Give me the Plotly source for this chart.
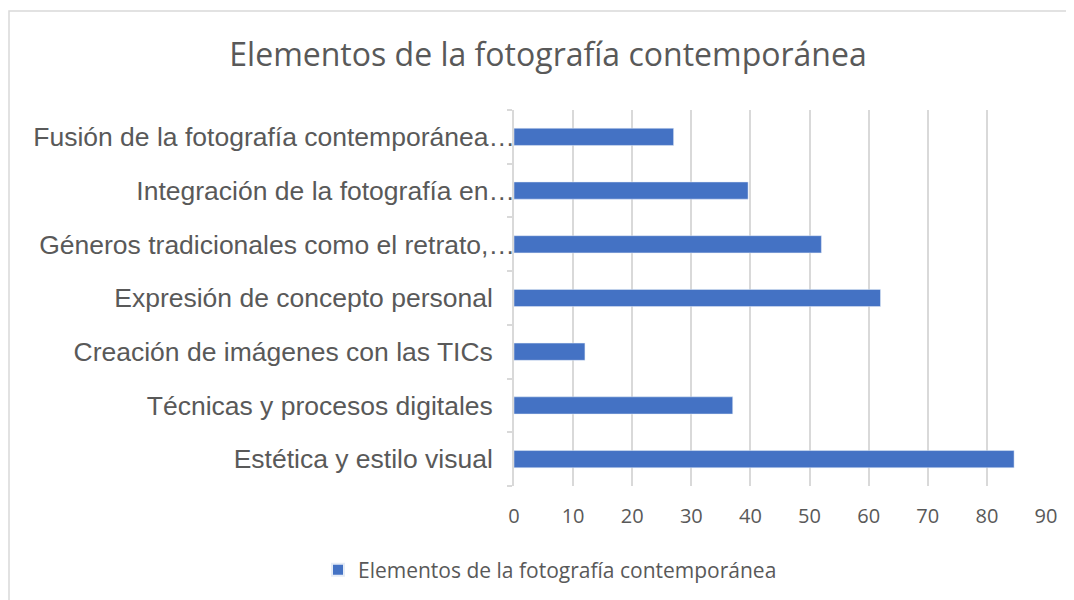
import plotly.graph_objects as go

categories = [
    "Estética y estilo visual",
    "Técnicas y procesos digitales",
    "Creación de imágenes con las TICs",
    "Expresión de concepto personal",
    "Géneros tradicionales como el retrato,…",
    "Integración de la fotografía en…",
    "Fusión de la fotografía contemporánea…",
]
values = [84.6, 37, 12, 62, 52, 39.6, 27]
series_name = "Elementos de la fotografía contemporánea"
title_text = "Elementos de la fotografía contemporánea"
x_ticks = [0, 10, 20, 30, 40, 50, 60, 70, 80, 90]

# pad labels that are not truncated so they sit further from the axis
tick_text = [c if c.endswith("…") else c + "\u00a0" * 3 for c in categories]

OFF = 8  # page body margin
W, H = 1074 - OFF, 600 - OFF
L, R, T, B = 514 - OFF, 1046 - OFF, 110 - OFF, 486 - OFF

fig = go.Figure()
fig.add_trace(go.Bar(
    y=categories, x=values, orientation="h", name=series_name,
    marker=dict(color="#4472C4"), showlegend=True,
))

fig.update_layout(
    width=W, height=H,
    margin=dict(l=L, r=W - R, t=T, b=H - B, autoexpand=False),
    paper_bgcolor="white", plot_bgcolor="white",
    bargap=0.68,
    title=dict(text=title_text, x=(548 - OFF) / W, xanchor="center", y=1 - (55 - OFF) / H,
               yanchor="middle",
               font=dict(family="Open Sans", size=32, color="#595959")),
    showlegend=True,
    legend=dict(orientation="h", x=(318 - OFF - L) / (R - L), xanchor="left",
                y=(B - (570 - OFF)) / (B - T), yanchor="middle",
                font=dict(family="Open Sans", size=21, color="#595959"),
                itemwidth=30, itemsizing="constant"),
    xaxis=dict(range=[0, 90], tickvals=x_ticks, showgrid=True, gridcolor="#d9d9d9", gridwidth=1.5,
               zeroline=False, showline=False, ticks="", ticklabelstandoff=16,
               tickfont=dict(family="Open Sans", size=20, color="#595959")),
    yaxis=dict(type="category", categoryorder="array", categoryarray=categories,
               tickvals=categories, ticktext=tick_text,
               showline=True, linecolor="#d9d9d9", linewidth=1.5,
               ticks="outside", tickson="boundaries", ticklen=5, tickcolor="#d9d9d9", tickwidth=1.5,
               showgrid=False, automargin=False, ticklabelstandoff=-8,
               tickfont=dict(family="Liberation Sans", size=26.5, color="#595959")),
)

# outer chart border
fig.add_shape(type="rect", xref="paper", yref="paper",
              x0=(1 - L) / (R - L), x1=(1090 - L) / (R - L),
              y0=(B - 620) / (B - T), y1=(B - (11 - OFF)) / (B - T),
              line=dict(color="#d9d9d9", width=1.5), fillcolor="rgba(0,0,0,0)", layer="below")

fig.write_html("out.html")
